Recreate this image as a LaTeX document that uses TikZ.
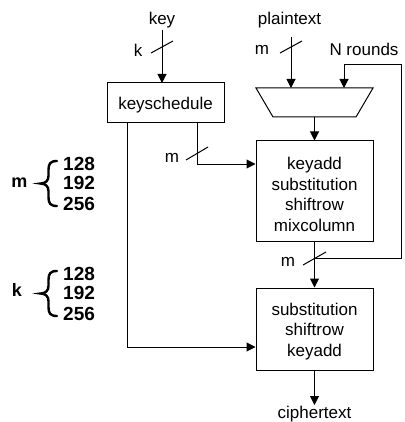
\documentclass[tikz,border=0pt]{standalone}
\usepackage{fontspec}
\setmainfont{Liberation Sans}
\usetikzlibrary{arrows.meta,calc}
\begin{document}
\begin{tikzpicture}[x=1pt,y=-1pt,
  every node/.style={font=\fontsize{17}{20.7}\selectfont, inner sep=0pt},
  ln/.style={line width=1pt, line join=miter},
  arr/.style={ln, -{Triangle[length=9pt,width=9pt]}},
  box/.style={draw, line width=1pt, inner sep=0pt},
  lab/.style={anchor=base},
  num/.style={anchor=base west, font=\fontsize{19}{20}\selectfont\bfseries},
  brace/.style={line width=2.4pt, line cap=round}
]
\useasboundingbox (0,0) rectangle (404,422);

% labels on top
\node[lab] (key) at (162,25) {key};
\node[lab] (pt) at (289.5,25) {plaintext};
\node[lab] (nr) at (364,55.5) {N rounds};
\node[lab] (kl) at (138,57) {k};
\node[lab] (ml1) at (262,55) {m};

% keyschedule
\node[box, minimum width=117pt, minimum height=40pt] (ks) at (165.5,103) {};
\node[lab] (kst) at (165.5,109.5) {keyschedule};

% multiplexer trapezoid
\coordinate (tz1) at (256,88);
\coordinate (tz2) at (373,88);
\coordinate (tz3) at (356,117);
\coordinate (tz4) at (273,117);
\draw[ln] (tz1) -- (tz2) -- (tz3) -- (tz4) -- cycle;
\coordinate (tzin1) at (291,88);
\coordinate (tzin2) at (344,88);
\coordinate (tzout) at (314.5,117);

% round box
\node[box, minimum width=117pt, minimum height=100pt] (r1) at (314.5,191) {};
\node[align=center] (r1t) at (314.5,194.5) {keyadd\\substitution\\shiftrow\\mixcolumn};

% final box
\node[box, minimum width=117pt, minimum height=82pt] (r2) at (314.5,329) {};
\node[align=center] (r2t) at (314.5,331.5) {substitution\\shiftrow\\keyadd};

\node[lab] (ct) at (314.5,418) {ciphertext};

% connectors
\coordinate (keyst) at (162,30);
\draw[arr] (keyst) -- (162,83);
\coordinate (ptst) at (291,37);
\draw[arr] (ptst) -- (tzin1);
\draw[arr] (tzout) -- (r1.north);
\draw[arr] (r1.south) -- (r2.north);
\draw[arr] (r2.south) -- (314.5,405);

% key schedule outputs
\coordinate (ko1) at (197,123);
\coordinate (ko2) at (127,123);
\draw[arr] (ko1) |- (r1.west |- 0,164);
\draw[arr] (ko2) |- (r2.west |- 0,347);

% feedback
\coordinate (fj) at (314.5,258);
\draw[arr] (fj) -- (401,258) -- (401,65) -- (344,65) -- (tzin2);

% bus slashes
\draw[ln] (151,53) -- (173,41);
\draw[ln] (280,53) -- (302,41);
\draw[ln] (186,160) -- (208,147);
\draw[ln] (303,265) -- (326,252);
\node[lab] (ml2) at (172,162.5) {m};
\node[lab] (ml3) at (288,266.5) {m};

% left legend
\node[lab, font=\fontsize{18}{20}\selectfont\bfseries] (mlg) at (19.5,187) {m};
\draw[brace] (57,161) .. controls (50,161) and (48.5,164) .. (48.5,170) -- (48.5,176)
  .. controls (48.5,181) and (45,183.5) .. (40.5,183.5)
  .. controls (45,183.5) and (48.5,186) .. (48.5,191) -- (48.5,197)
  .. controls (48.5,203) and (50,206) .. (57,206);
\node[num] (m128) at (63,170) {128};
\node[num] (m192) at (63,189.5) {192};
\node[num] (m256) at (63,210) {256};

\node[lab, font=\fontsize{18}{20}\selectfont\bfseries] (klg) at (17,296.5) {k};
\draw[brace] (57,271) .. controls (50,271) and (48.5,274) .. (48.5,280) -- (48.5,286)
  .. controls (48.5,291) and (45,293.5) .. (40.5,293.5)
  .. controls (45,293.5) and (48.5,296) .. (48.5,301) -- (48.5,307)
  .. controls (48.5,313) and (50,316) .. (57,316);
\node[num] (k128) at (63,280) {128};
\node[num] (k192) at (63,299.5) {192};
\node[num] (k256) at (63,320) {256};
\end{tikzpicture}
\end{document}
